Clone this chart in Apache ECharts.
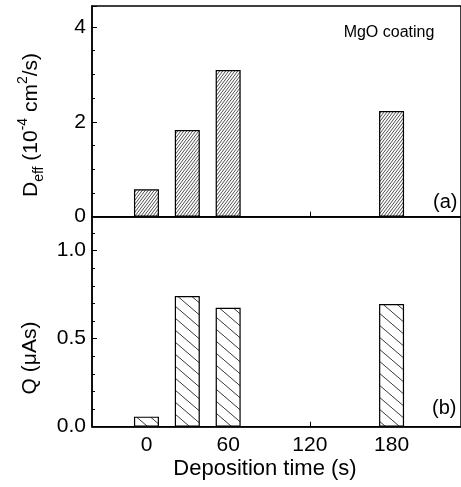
<!DOCTYPE html>
<html><head><meta charset="utf-8">
<script src="https://cdn.jsdelivr.net/npm/echarts@6/dist/echarts.min.js"></script>
<style>html,body{margin:0;padding:0;background:#fff}#c{width:461px;height:487px}</style>
</head><body><div id="c"></div>
<script>
// Data
const depositionTimes = [0, 30, 60, 180];
const deffValues = [0.577, 1.825, 3.09, 2.225];
const qValues = [0.057, 0.742, 0.676, 0.697];
const xTickValues = [0, 60, 120, 180];

const FONT = 'Liberation Sans, Arial, Helvetica, sans-serif';

function hatch(w, h, forward, lw, col) {
  const c = document.createElement('canvas');
  c.width = w; c.height = h;
  const g = c.getContext('2d');
  g.fillStyle = '#fff'; g.fillRect(0, 0, w, h);
  g.strokeStyle = col; g.lineWidth = lw;
  const segs = [];
  for (let k = -1; k <= 1; k++) {
    if (forward) segs.push([k * w, h, (k + 1) * w, 0]);
    else segs.push([k * w, 0, (k + 1) * w, h]);
  }
  g.beginPath();
  segs.forEach(s => { g.moveTo(s[0], s[1]); g.lineTo(s[2], s[3]); });
  g.stroke();
  return c;
}

const topPattern = { image: hatch(3, 4, true, 0.8, '#222'), repeat: 'repeat' };
const botPattern = { image: hatch(14, 12, false, 0.9, '#222'), repeat: 'repeat' };

const chart = echarts.init(document.getElementById('c'), null, { renderer: 'canvas' });

const xCommon = {
  type: 'value', min: -40, max: 231,
  axisLine: { show: true, onZero: false, lineStyle: { color: '#000', width: 1.5 } },
  axisTick: { show: true, inside: true, length: 5, customValues: xTickValues, lineStyle: { color: '#000', width: 1 } },
  splitLine: { show: false }
};

chart.setOption({
  animation: false,
  grid: [
    { left: 92, top: 6, right: -3, height: 210.7, show: true, borderColor: '#000', borderWidth: 1.5 },
    { left: 92, top: 216.7, right: -3, height: 210, show: true, borderColor: '#000', borderWidth: 1.5 }
  ],
  xAxis: [
    Object.assign({}, xCommon, { gridIndex: 0, axisLabel: { show: false } }),
    Object.assign({}, xCommon, { gridIndex: 1,
      axisLabel: { show: true, customValues: xTickValues, margin: 8, fontSize: 21, color: '#000', fontFamily: FONT } })
  ],
  yAxis: [
    { type: 'value', gridIndex: 0, min: 0, max: 4.44, interval: 2,
      axisLine: { show: true, onZero: false, lineStyle: { color: '#000', width: 1.5 } },
      axisTick: { show: true, inside: true, length: 5, lineStyle: { color: '#000' } },
      minorTick: { show: true, splitNumber: 4, length: 3, lineStyle: { color: '#000' } },
      splitLine: { show: false },
      axisLabel: { margin: 6, fontSize: 21, color: '#000', fontFamily: FONT,
        formatter: v => (Math.abs(v / 2 - Math.round(v / 2)) < 1e-6 ? String(Math.round(v)) : '') } },
    { type: 'value', gridIndex: 1, min: 0, max: 1.193, interval: 0.5,
      axisLine: { show: true, onZero: false, lineStyle: { color: '#000', width: 1.5 } },
      axisTick: { show: true, inside: true, length: 5, lineStyle: { color: '#000' } },
      minorTick: { show: true, splitNumber: 5, length: 3, lineStyle: { color: '#000' } },
      splitLine: { show: false },
      axisLabel: { margin: 6, fontSize: 21, color: '#000', fontFamily: FONT,
        formatter: v => (Math.abs(v / 0.5 - Math.round(v / 0.5)) < 1e-6 ? v.toFixed(1) : '') } }
  ],
  series: [
    { type: 'bar', xAxisIndex: 0, yAxisIndex: 0, barWidth: 25,
      data: depositionTimes.map((t, i) => [t, deffValues[i]]),
      itemStyle: { color: topPattern, borderColor: '#000', borderWidth: 1.2 } },
    { type: 'bar', xAxisIndex: 1, yAxisIndex: 1, barWidth: 25,
      data: depositionTimes.map((t, i) => [t, qValues[i]]),
      itemStyle: { color: botPattern, borderColor: '#000', borderWidth: 1.2 } }
  ],
  graphic: [
    { type: 'text', x: 31, y: 125, rotation: Math.PI / 2,
      style: { text: '{m|D}{s|eff}{m| (10}{p|-4}{m| cm}{p|2}{m|/s)}', align: 'center', verticalAlign: 'middle',
        rich: {
          m: { fontSize: 21, fontFamily: FONT, fill: '#000', lineHeight: 30 },
          s: { fontSize: 14, fontFamily: FONT, fill: '#000', lineHeight: 16, verticalAlign: 'bottom' },
          p: { fontSize: 14, fontFamily: FONT, fill: '#000', lineHeight: 16, verticalAlign: 'top' }
        } } },
    { type: 'text', x: 30, y: 358, rotation: Math.PI / 2,
      style: { text: 'Q (μAs)', align: 'center', verticalAlign: 'middle', fontSize: 21, fontFamily: FONT, fill: '#000' } },
    { type: 'text', x: 265, y: 469,
      style: { text: 'Deposition time (s)', align: 'center', verticalAlign: 'middle', fontSize: 22, fontFamily: FONT, fill: '#000' } },
    { type: 'text', x: 389, y: 33,
      style: { text: 'MgO coating', align: 'center', verticalAlign: 'middle', fontSize: 16, fontFamily: FONT, fill: '#000' } },
    { type: 'text', x: 433, y: 202,
      style: { text: '(a)', align: 'left', verticalAlign: 'middle', fontSize: 20, fontFamily: FONT, fill: '#000' } },
    { type: 'text', x: 432, y: 408,
      style: { text: '(b)', align: 'left', verticalAlign: 'middle', fontSize: 20, fontFamily: FONT, fill: '#000' } }
  ]
});
</script></body></html>
